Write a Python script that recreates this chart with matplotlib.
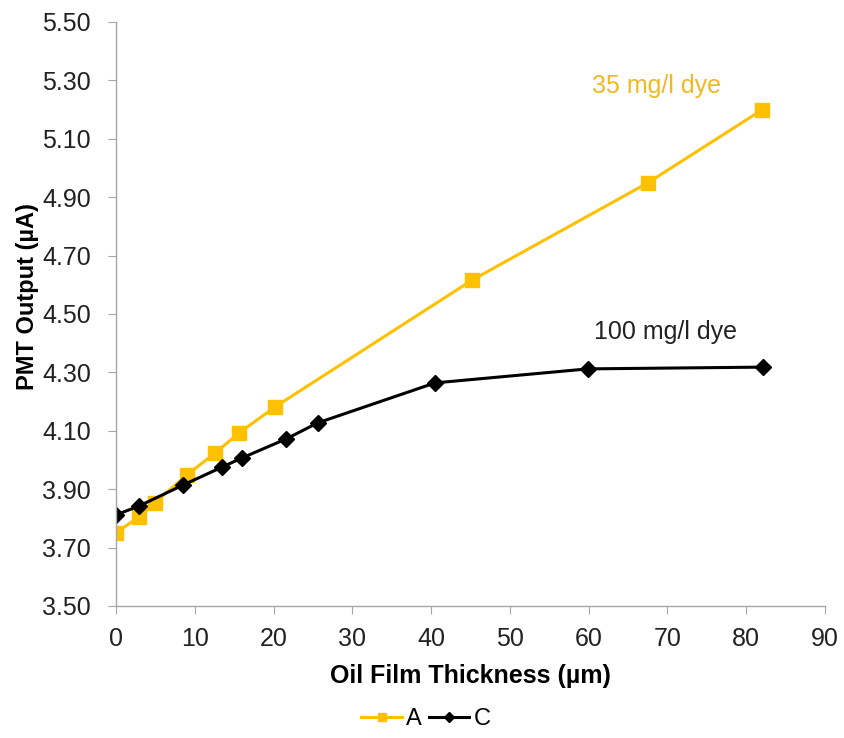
import matplotlib.pyplot as plt
import numpy as np

plt.rcParams['font.family'] = ['Liberation Sans', 'DejaVu Sans']

# thickness (um) and PMT output (uA)
thick_a = [0, 2.9, 4.9, 9.0, 12.6, 15.6, 20.2, 45.2, 67.5, 82.0]
pmt_a = [3.75, 3.805, 3.853, 3.949, 4.024, 4.092, 4.182, 4.616, 4.949, 5.199]

thick_c = [0, 2.9, 8.5, 13.5, 16.0, 21.6, 25.6, 40.5, 59.9, 82.1]
pmt_c = [3.812, 3.842, 3.914, 3.976, 4.007, 4.072, 4.127, 4.264, 4.312, 4.318]

x_ticks = np.arange(0, 91, 10)
y_ticks = np.arange(3.5, 5.51, 0.2)

gold = '#FFC000'
grey = '#A6A6A6'

fig = plt.figure(figsize=(8.44, 7.38), dpi=100)
ax = fig.add_axes([0.1374, 0.1789, 0.8401, 0.7913])

ax.plot(thick_a, pmt_a, color=gold, lw=2.2, marker='s', ms=10, label='A')
ax.plot(thick_c, pmt_c, color='black', lw=2.2, marker='D', ms=8.5, label='C')

ax.set_xlim(0, 90)
ax.set_ylim(3.5, 5.5)
ax.set_xticks(x_ticks)
ax.set_yticks(y_ticks)
ax.set_yticklabels([f'{v:.2f}' for v in y_ticks])

for s in ['top', 'right']:
    ax.spines[s].set_visible(False)
for s in ['left', 'bottom']:
    ax.spines[s].set_color(grey)
    ax.spines[s].set_linewidth(1)
ax.tick_params(axis='both', direction='out', length=6, color=grey,
               labelsize=18, labelcolor='#222222')
ax.tick_params(axis='y', pad=12)
ax.tick_params(axis='x', pad=9)

ax.set_xlabel('Oil Film Thickness (µm)', fontsize=18, fontweight='bold')
ax.set_ylabel('PMT Output (µA)', fontsize=17, fontweight='bold')
ax.xaxis.set_label_coords(0.5, -0.1)
ax.yaxis.set_label_coords(-0.108, 0.53)

ax.text(60.4, 5.28, '35 mg/l dye', color='#F2B822', fontsize=18, ha='left', va='center')
ax.text(60.7, 4.44, '100 mg/l dye', color='#222222', fontsize=18, ha='left', va='center')

fig.legend(loc='center', bbox_to_anchor=(0.505, 0.026), ncol=2, frameon=False,
           fontsize=17, handlelength=1.7, handletextpad=0.2, columnspacing=0.3,
           markerscale=0.6)

fig.savefig('out.png', dpi=100)
